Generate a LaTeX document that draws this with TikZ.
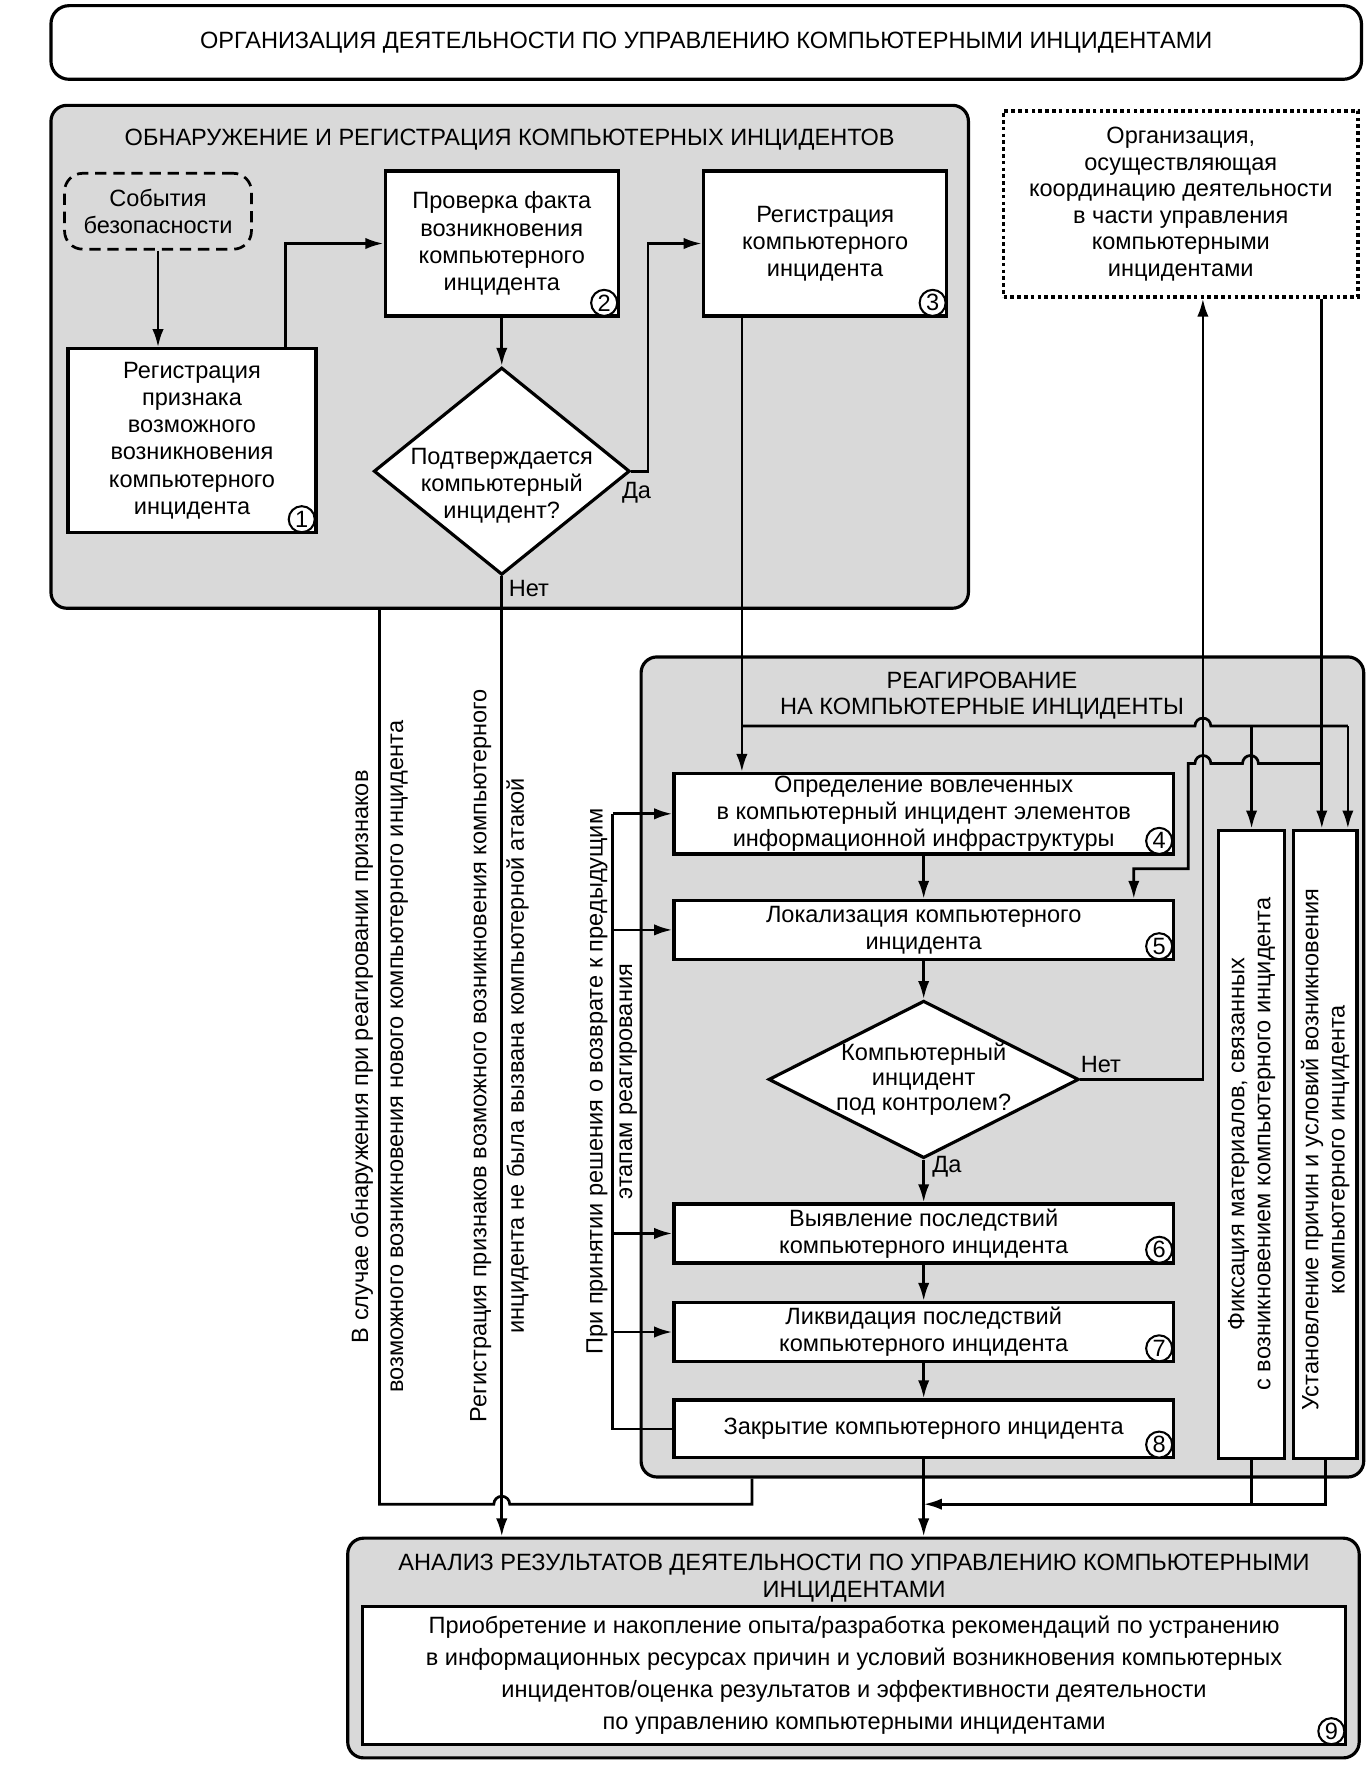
\documentclass[tikz,border=0pt]{standalone}
\usepackage{fontspec}
\setmainfont{Liberation Sans}
\usetikzlibrary{arrows.meta,shapes.geometric,fit,calc}
\begin{document}
\begin{tikzpicture}[x=0.5pt,y=-0.5pt,
  >={Latex[length=8pt,width=5pt]},
  every node/.style={font=\fontsize{10.4}{12}\selectfont, align=center},
  grp/.style={draw,line width=1.4pt,fill=black!15,rounded corners=7pt,inner sep=0pt},
  box/.style={draw,line width=1.4pt,fill=white,inner sep=0pt},
  conn/.style={line width=1.2pt},
  arr/.style={line width=1.2pt,->},
  num/.style={draw,circle,line width=0.9pt,fill=white,inner sep=0pt,minimum size=11.5pt,font=\fontsize{10.4}{10}\selectfont},
  vtext/.style={rotate=90},
  dia/.style={diamond,draw,line width=1.4pt,fill=white,inner sep=0pt}
]
\useasboundingbox (0,0) rectangle (1209,1568);

% ---------- top title ----------
\node[draw,line width=1.4pt,rounded corners=8pt,fill=white,inner sep=0pt,fit={(45,5)(1202,70)}] (top) {};
\node (topt) at (top.center) {ОРГАНИЗАЦИЯ ДЕЯТЕЛЬНОСТИ ПО УПРАВЛЕНИЮ КОМПЬЮТЕРНЫМИ ИНЦИДЕНТАМИ};

% ---------- groups ----------
\node[grp,fit={(45,93)(855,537)}] (det) {};
\node (dettitle) at (450,123) {ОБНАРУЖЕНИЕ И РЕГИСТРАЦИЯ КОМПЬЮТЕРНЫХ ИНЦИДЕНТОВ};

\node[grp,fit={(566,580)(1204,1304)}] (resp) {};
\node[font=\fontsize{10.4}{11.5}\selectfont] (resptitle) at (867,614) {РЕАГИРОВАНИЕ\\НА КОМПЬЮТЕРНЫЕ ИНЦИДЕНТЫ};

\node[grp,fit={(307,1358)(1200,1552)}] (ana) {};
\node (anatitle) at (754,1393) {АНАЛИЗ РЕЗУЛЬТАТОВ ДЕЯТЕЛЬНОСТИ ПО УПРАВЛЕНИЮ КОМПЬЮТЕРНЫМИ\\ИНЦИДЕНТАМИ};

% ---------- detection ----------
\node[draw,line width=1.2pt,dash pattern=on 5pt off 3pt,rounded corners=8pt,inner sep=0pt,fit={(57,153)(222,220)}] (ev) {};
\node (evt) at (ev.center) {События\\безопасности};
\node[box,fit={(60,308)(279,470)}] (b1) {};
\node (b1t) at (b1.center) {Регистрация\\признака\\возможного\\возникновения\\компьютерного\\инцидента};
\node[box,fit={(340,151)(546,279)}] (b2) {};
\node (b2t) at (b2.center) {Проверка факта\\возникновения\\компьютерного\\инцидента};
\node[box,fit={(621,151)(836,279)}] (b3) {};
\node (b3t) at (b3.center) {Регистрация\\компьютерного\\инцидента};
\node[dia,minimum width=113pt,minimum height=91.5pt] (d1) at (443,416) {};
\node (d1t) at (443,429) {Подтверждается\\компьютерный\\инцидент?};
\node (da1) at (562,435) {Да};
\node (net1) at (467,520) {Нет};

% ---------- coordinating organisation ----------
\node[draw,line width=1.6pt,dash pattern=on 1.6pt off 1.4pt,inner sep=0pt,fit={(886,98)(1199,262)}] (coord) {};
\node[font=\fontsize{10.4}{11.7}\selectfont] (coordt) at (coord.center)
  {Организация,\\осуществляющая\\координацию деятельности\\в части управления\\компьютерными\\инцидентами};

% ---------- response ----------
\node[box,fit={(595,683)(1036,754)}] (b4) {};
\node (b4t) at (b4.center) {Определение вовлеченных\\в компьютерный инцидент элементов\\информационной инфраструктуры};
\node[box,fit={(595,795)(1036,847)}] (b5) {};
\node (b5t) at (b5.center) {Локализация компьютерного\\инцидента};
\node[dia,minimum width=137pt,minimum height=69.5pt] (d2) at (815.5,953) {};
\node[font=\fontsize{10.4}{11}\selectfont] (d2t) at (815.5,953) {Компьютерный\\инцидент\\под контролем?};
\node (net2) at (972,940) {Нет};
\node (da2) at (836,1030) {Да};
\node[box,fit={(595,1063)(1036,1115)}] (b6) {};
\node (b6t) at (b6.center) {Выявление последствий\\компьютерного инцидента};
\node[box,fit={(595,1150)(1036,1202)}] (b7) {};
\node (b7t) at (b7.center) {Ликвидация последствий\\компьютерного инцидента};
\node[box,fit={(595,1236)(1036,1287)}] (b8) {};
\node (b8t) at (b8.center) {Закрытие компьютерного инцидента};

\node[box,fit={(1076,733)(1134,1288)}] (s1) {};
\node[vtext,font=\fontsize{10.4}{11.5}\selectfont] (s1t) at (1105,1010)
  {Фиксация материалов, связанных\\с возникновением компьютерного инцидента};
\node[box,fit={(1142,733)(1198,1288)}] (s2) {};
\node[vtext,font=\fontsize{10.4}{11.5}\selectfont] (s2t) at (1170,1015)
  {Установление причин и условий возникновения\\компьютерного инцидента};

% ---------- analysis ----------
\node[box,fit={(320,1418)(1188,1540)}] (b9) {};
\node[font=\fontsize{10.4}{14}\selectfont] (b9t) at (b9.center)
  {Приобретение и накопление опыта/разработка рекомендаций по устранению\\в информационных ресурсах причин и условий возникновения компьютерных\\инцидентов/оценка результатов и эффективности деятельности\\по управлению компьютерными инцидентами};

% ---------- numbers ----------
\foreach \b/\n in {b1/1,b2/2,b3/3,b4/4,b5/5,b6/6,b7/7,b8/8,b9/9}
  \node[num] (n\n) at ($(\b.south east)+(-14,-13)$) {\n};

% ---------- rotated annotations ----------
\node[vtext,font=\fontsize{10.4}{15.5}\selectfont] (t1) at (335,933)
  {В случае обнаружения при реагировании признаков\\возможного возникновения нового компьютерного инцидента};
\node[vtext,font=\fontsize{10.4}{16.5}\selectfont] (t2) at (441,932)
  {Регистрация признаков возможного возникновения компьютерного\\инцидента не была вызвана компьютерной атакой};
\node[vtext,font=\fontsize{10.4}{13}\selectfont] (t3) at (540,955)
  {При принятии решения о возврате к предыдущим\\этапам реагирования};

% ---------- connectors: detection ----------
\draw[arr] (ev.south) -- (ev.south |- b1.north);
\draw[arr] (252,0 |- b1.north) |- (b2.west);
\draw[arr] (b2.south) -- (d1.north);
\draw[arr] (d1.east) -- (572,0 |- d1.east) |- (b3.west);
\draw[arr] (d1.south) -- (d1.south |- ana.north);

% left loop from response back to detection
\draw[conn] (335,0 |- det.south) -- (335,1328) -- (436,1328)
  arc[start angle=180,end angle=0,radius=3.5pt] -- (664,1328) -- (664,0 |- resp.south);

% ---------- connectors: registration to response ----------
\coordinate (j1) at (655,641);
\draw[conn] (655,0 |- b3.south) -- (j1);
\draw[arr] (j1) -- (j1 |- b4.north);
\draw[conn] (j1) -- (1055,641) arc[start angle=180,end angle=0,radius=3.5pt] -- (1190,641);
\draw[arr] (1190,641) -- (1190,0 |- s2.north);
\draw[arr] (s1.north |- j1) -- (s1.north);

% line to coordinating organisation (Нет from d2)
\draw[arr] (d2.east) -- (1062,0 |- d2.east) -- (1062,0 |- coord.south);
% line from coordinating organisation
\coordinate (j2) at (1167,674);
\draw[arr] (1167,0 |- coord.south) -- (1167,0 |- s2.north);
\draw[arr] (j2) -- (1111,674) arc[start angle=0,end angle=180,radius=3.5pt]
  -- (1069,674) arc[start angle=0,end angle=180,radius=3.5pt]
  -- (1049,674) -- (1049,767) -- (1001,767) -- (1001,0 |- b5.north);

% main chain
\draw[arr] (b4.south) -- (b5.north);
\draw[arr] (b5.south) -- (d2.north);
\draw[arr] (d2.south) -- (b6.north);
\draw[arr] (b6.south) -- (b7.north);
\draw[arr] (b7.south) -- (b8.north);
\draw[arr] (b8.south) -- (b8.south |- ana.north);

% feedback loop
\draw[conn] (b8.west) -- (541,0 |- b8.west) -- (541,0 |- b4.west);
\foreach \b in {b4,b5,b6,b7}
  \draw[arr] (541,0 |- \b.west) -- (\b.west);

% side boxes to analysis
\draw[conn] (s1.south) -- (s1.south |- 0,1328) -- (s2.south |- 0,1328) -- (s2.south);
\draw[arr] (s1.south |- 0,1328) -- (b8.south |- 0,1328);
\end{tikzpicture}
\end{document}
